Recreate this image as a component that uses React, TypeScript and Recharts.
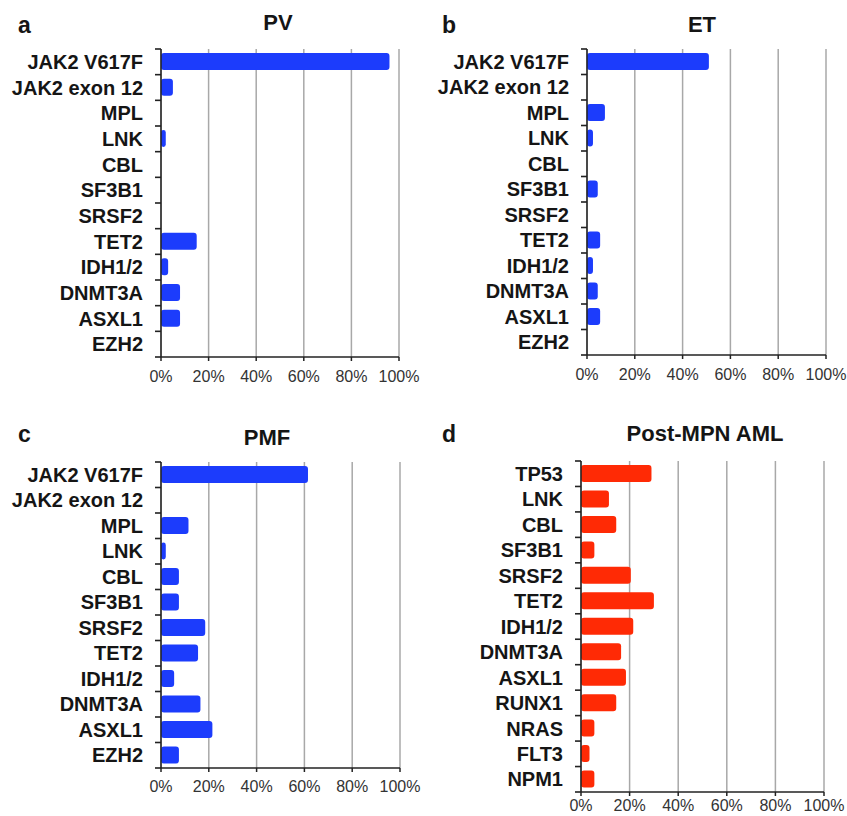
import { BarChart, Bar, XAxis, YAxis, CartesianGrid } from 'recharts';

const mpnGenes = ['JAK2 V617F', 'JAK2 exon 12', 'MPL', 'LNK', 'CBL', 'SF3B1', 'SRSF2', 'TET2', 'IDH1/2', 'DNMT3A', 'ASXL1', 'EZH2'];
const pvValues = [96, 5, 0, 2, 0, 0, 0, 15, 3, 8, 8, 0];
const etValues = [51, 0, 7.5, 2.5, 0, 4.5, 0, 5.5, 2.5, 4.5, 5.5, 0];
const pmfValues = [61.5, 0, 11.5, 2, 7.5, 7.5, 18.5, 15.5, 5.5, 16.5, 21.5, 7.5];

const amlGenes = ['TP53', 'LNK', 'CBL', 'SF3B1', 'SRSF2', 'TET2', 'IDH1/2', 'DNMT3A', 'ASXL1', 'RUNX1', 'NRAS', 'FLT3', 'NPM1'];
const amlValues = [29, 11.5, 14.5, 5.5, 20.5, 30, 21.5, 16.5, 18.5, 14.5, 5.5, 3.5, 5.5];

const percentTicks = [0, 20, 40, 60, 80, 100];

const BLUE = '#1c3cfc';
const RED = '#ff2a05';
const FONT = '"Liberation Sans", Arial, sans-serif';

interface PanelProps {
  letter: string;
  title: string;
  genes: string[];
  values: number[];
  color: string;
  left: number;
  top: number;
  plotLeft: number;
  plotRight: number;
  plotTop: number;
  plotBottom: number;
  titleX: number;
  titleY: number;
  letterY: number;
  labelGap: number;
  labelDrop: number;
}

// chart box is a bit larger than the 424x408 cell so edge labels are not clipped
const CW = 446;
const CH = 440;
const XAXIS_H = 30;

function Panel(p: PanelProps) {
  const data = p.genes.map((g, i) => ({ gene: g, value: p.values[i] }));
  const band = (p.plotBottom - p.plotTop) / p.genes.length;
  const last = p.genes[p.genes.length - 1];

  // label at the band centre, small tick marks at the band edges
  const GeneTick = (props: any) => {
    const { y, payload } = props;
    const yy = Number(y);
    const x0 = p.plotLeft - 6;
    return (
      <g>
        <rect x={x0} y={yy - band / 2 - 0.8} width={6} height={1.6} fill="#222" />
        {payload.value === last && <rect x={x0} y={yy + band / 2 - 0.8} width={6} height={1.6} fill="#222" />}
        <text x={p.plotLeft - p.labelGap} y={yy} dy="0.36em" textAnchor="end" fontSize={20} fontWeight="bold" fill="#151515" fontFamily={FONT}>
          {payload.value}
        </text>
      </g>
    );
  };

  return (
    <div style={{ position: 'absolute', left: p.left, top: p.top, width: CW, height: CH }}>
      <div style={{ position: 'absolute', left: 18, top: p.letterY - 13, fontFamily: FONT, fontWeight: 'bold', fontSize: 23, lineHeight: '26px', color: '#151515' }}>
        {p.letter}
      </div>
      <div style={{ position: 'absolute', left: p.titleX - 150, width: 300, top: p.titleY - 13, textAlign: 'center', fontFamily: FONT, fontWeight: 'bold', fontSize: 22, lineHeight: '26px', color: '#151515' }}>
        {p.title}
      </div>
      <BarChart
        width={CW}
        height={CH}
        data={data}
        layout="vertical"
        margin={{ top: p.plotTop, right: CW - p.plotRight, bottom: CH - p.plotBottom - XAXIS_H, left: 0 }}
        barSize={17}
      >
        <CartesianGrid horizontal={false} stroke="#a8a8a8" strokeWidth={1.5} />
        <XAxis
          type="number"
          domain={[0, 100]}
          ticks={percentTicks}
          tickFormatter={(v: number) => `${v}%`}
          height={XAXIS_H}
          axisLine={{ stroke: '#222', strokeWidth: 1.5 }}
          tickLine={{ stroke: '#222', strokeWidth: 1.5 }}
          tickSize={4}
          tickMargin={p.labelDrop}
          tick={{ fill: '#333', fontSize: 16, fontFamily: FONT }}
          interval={0}
        />
        <YAxis
          type="category"
          dataKey="gene"
          width={p.plotLeft}
          axisLine={{ stroke: '#222', strokeWidth: 1.5 }}
          tickLine={false}
          tick={GeneTick}
          interval={0}
        />
        <Bar dataKey="value" fill={p.color} radius={3} isAnimationActive={false} />
      </BarChart>
    </div>
  );
}

export default function App() {
  return (
    <div style={{ position: 'absolute', left: 0, top: 0, width: 847, height: 816, background: '#fff', overflow: 'hidden' }}>
      <Panel letter="a" title="PV" genes={mpnGenes} values={pvValues} color={BLUE}
        left={0} top={0} plotLeft={161} plotRight={399} plotTop={49} plotBottom={357}
        titleX={278} titleY={23} letterY={25} labelGap={18} labelDrop={10} />
      <Panel letter="b" title="ET" genes={mpnGenes} values={etValues} color={BLUE}
        left={424} top={0} plotLeft={163} plotRight={402} plotTop={49} plotBottom={355}
        titleX={278} titleY={25} letterY={25} labelGap={18} labelDrop={10} />
      <Panel letter="c" title="PMF" genes={mpnGenes} values={pmfValues} color={BLUE}
        left={0} top={408} plotLeft={161} plotRight={400} plotTop={54} plotBottom={360}
        titleX={267} titleY={30} letterY={26} labelGap={18} labelDrop={9} />
      <Panel letter="d" title="Post-MPN AML" genes={amlGenes} values={amlValues} color={RED}
        left={424} top={408} plotLeft={157} plotRight={400} plotTop={53} plotBottom={384}
        titleX={281} titleY={26} letterY={26} labelGap={18} labelDrop={4} />
    </div>
  );
}
